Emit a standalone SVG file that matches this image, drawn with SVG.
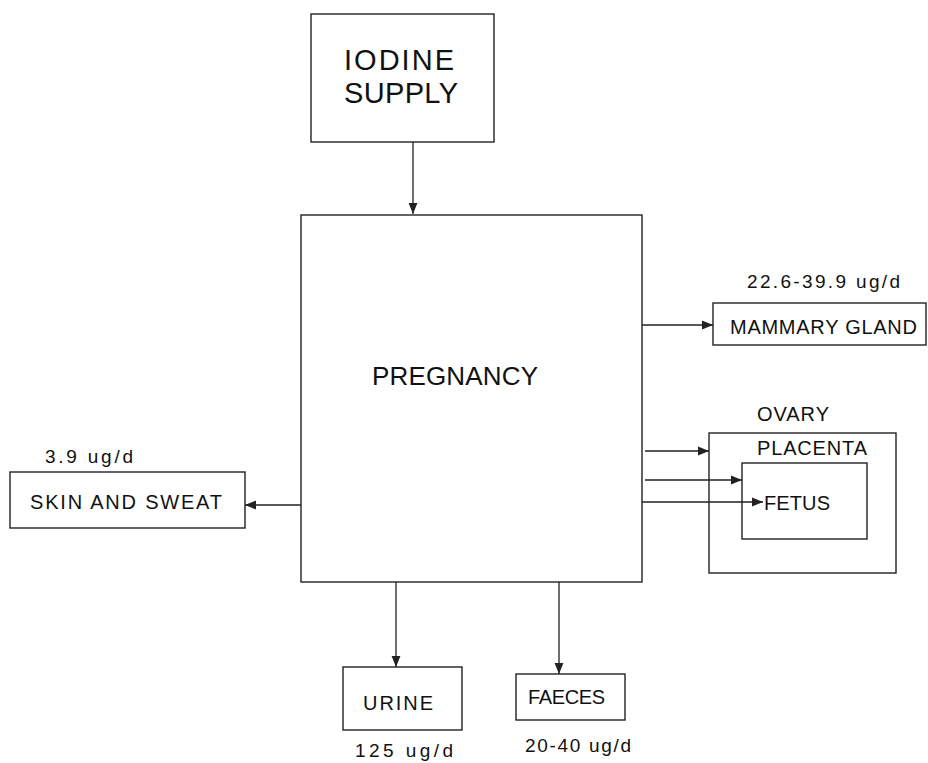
<svg xmlns="http://www.w3.org/2000/svg" width="928" height="763" viewBox="0 0 928 763">
<style>
.box{fill:none;stroke:#222;stroke-width:1.4}
.ln{fill:none;stroke:#222;stroke-width:1.3;marker-end:url(#ah)}
text{font-family:"Liberation Sans",Arial,sans-serif;fill:#111}
.big{font-size:29px}
.mid{font-size:26px}
.lab{font-size:20px}
.val{font-size:19px}
</style>
<defs>
<marker id="ah" viewBox="0 0 10 10" refX="10" refY="5" markerWidth="11" markerHeight="11" markerUnits="userSpaceOnUse" orient="auto">
<path d="M0,1 L10,5 L0,9 z" fill="#222"/>
</marker>
</defs>
<rect width="928" height="763" fill="#fff"/>
<g id="connectors">
<line class="ln" x1="413" y1="142" x2="413" y2="214"/>
<line class="ln" x1="642" y1="325" x2="713" y2="325"/>
<line class="ln" x1="645" y1="451" x2="709" y2="451"/>
<line class="ln" x1="645" y1="480" x2="742" y2="480"/>
<line class="ln" x1="642" y1="502" x2="763" y2="502"/>
<line class="ln" x1="301" y1="505" x2="245" y2="505"/>
<line class="ln" x1="396" y1="582" x2="396" y2="667"/>
<line class="ln" x1="559" y1="582" x2="559" y2="674"/>
</g>
<g id="iodine">
<rect class="box" x="311" y="14" width="183" height="128"/>
<text class="big" x="344" y="70" textLength="110">IODINE</text>
<text class="big" x="344" y="103" textLength="114">SUPPLY</text>
</g>
<g id="pregnancy">
<rect class="box" x="301" y="215" width="341" height="367"/>
<text class="mid" x="372" y="385" textLength="166">PREGNANCY</text>
</g>
<g id="mammary">
<text class="val" x="747" y="288" textLength="153">22.6-39.9 ug/d</text>
<rect class="box" x="713" y="303" width="213" height="42"/>
<text class="lab" x="730" y="334" textLength="187">MAMMARY GLAND</text>
</g>
<g id="ovary">
<text class="lab" x="757" y="421" textLength="72">OVARY</text>
<rect class="box" x="709" y="433" width="187" height="140"/>
<text class="lab" x="757" y="455" textLength="110">PLACENTA</text>
</g>
<g id="fetus">
<rect class="box" x="742" y="463" width="125" height="76"/>
<text class="lab" x="764" y="510" textLength="66">FETUS</text>
</g>
<g id="skin">
<text class="val" x="45" y="463" textLength="88">3.9 ug/d</text>
<rect class="box" x="10" y="472" width="235" height="56"/>
<text class="lab" x="30" y="509" textLength="192">SKIN AND SWEAT</text>
</g>
<g id="urine">
<rect class="box" x="343" y="667" width="119" height="63"/>
<text class="lab" x="363" y="710" textLength="70">URINE</text>
<text class="val" x="355" y="757" textLength="98">125 ug/d</text>
</g>
<g id="faeces">
<rect class="box" x="516" y="674" width="109" height="46"/>
<text class="lab" x="528" y="704" textLength="77">FAECES</text>
<text class="val" x="525" y="752" textLength="106">20-40 ug/d</text>
</g>
</svg>
